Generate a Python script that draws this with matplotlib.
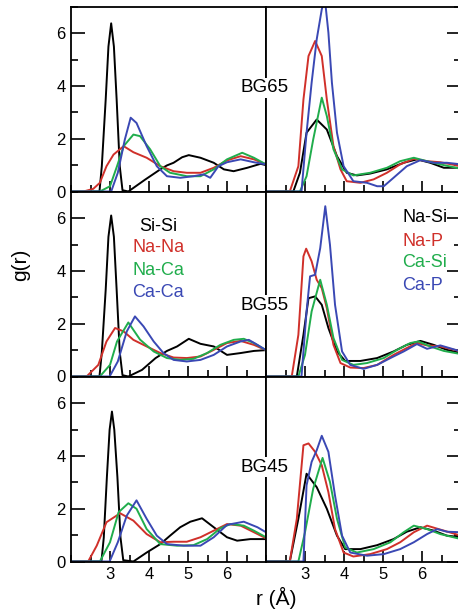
import matplotlib
matplotlib.use("Agg")
import matplotlib.pyplot as plt
from matplotlib.ticker import MultipleLocator

plt.rcParams['font.family'] = ['Liberation Sans', 'DejaVu Sans']

BLACK = 'black'
RED = '#d0302a'
GREEN = '#20ad4c'
BLUE = '#3a48b4'

# ---------------- BG65 ----------------
bg65_sisi_r = [2.0, 2.73, 2.79, 2.89, 2.96, 3.03, 3.10, 3.17, 3.25, 3.32, 3.47, 3.9, 4.29, 4.46, 4.63, 4.85, 5.02, 5.32, 5.66, 5.92, 6.17, 6.52, 6.86, 7.0]
bg65_sisi_g = [0.0, 0.0, 0.96, 3.5, 5.5, 6.38, 5.5, 3.5, 0.96, 0.05, 0.0, 0.45, 0.84, 0.99, 1.09, 1.30, 1.38, 1.28, 1.09, 0.84, 0.77, 0.90, 1.05, 1.0]
bg65_nana_r = [2.0, 2.32, 2.57, 2.74, 2.91, 3.09, 3.35, 3.6, 3.94, 4.29, 4.63, 4.97, 5.32, 5.66, 6.0, 6.35, 6.69, 7.0]
bg65_nana_g = [0.0, 0.0, 0.1, 0.33, 0.96, 1.4, 1.72, 1.49, 1.28, 0.96, 0.77, 0.71, 0.71, 0.90, 1.18, 1.34, 1.22, 1.03]
bg65_naca_r = [2.0, 2.74, 3.0, 3.18, 3.35, 3.6, 3.77, 4.03, 4.29, 4.54, 4.97, 5.32, 5.66, 6.0, 6.39, 6.69, 7.0]
bg65_naca_g = [0.0, 0.0, 0.2, 0.96, 1.72, 2.16, 2.1, 1.6, 0.96, 0.71, 0.58, 0.58, 0.84, 1.22, 1.47, 1.28, 1.03]
bg65_caca_r = [2.0, 3.03, 3.2, 3.38, 3.53, 3.68, 3.94, 4.2, 4.46, 4.8, 5.14, 5.4, 5.57, 5.78, 6.0, 6.35, 6.69, 7.0]
bg65_caca_g = [0.0, 0.0, 0.71, 1.97, 2.8, 2.6, 1.72, 0.96, 0.58, 0.52, 0.58, 0.65, 0.52, 0.96, 1.11, 1.22, 1.11, 1.03]

bg65_nasi_r = [2.0, 2.70, 2.87, 3.04, 3.30, 3.56, 3.82, 4.07, 4.33, 4.67, 5.1, 5.53, 5.87, 6.21, 6.56, 7.0]
bg65_nasi_g = [0.0, 0.0, 0.71, 2.23, 2.73, 2.35, 1.34, 0.71, 0.61, 0.68, 0.84, 1.09, 1.22, 1.09, 0.9, 0.9]
bg65_nap_r = [2.0, 2.61, 2.83, 2.96, 3.09, 3.26, 3.43, 3.56, 3.73, 3.91, 4.07, 4.42, 4.76, 5.1, 5.44, 5.79, 6.13, 6.47, 7.0]
bg65_nap_g = [0.0, 0.0, 0.96, 3.49, 5.14, 5.71, 5.14, 3.49, 1.72, 0.84, 0.39, 0.33, 0.46, 0.71, 1.03, 1.24, 1.15, 1.11, 0.96]
bg65_casi_r = [2.0, 2.87, 3.04, 3.21, 3.43, 3.56, 3.73, 3.95, 4.24, 4.67, 5.1, 5.44, 5.79, 6.13, 6.47, 7.0]
bg65_casi_g = [0.0, 0.0, 0.58, 1.97, 3.56, 2.86, 1.6, 0.84, 0.61, 0.71, 0.90, 1.15, 1.28, 1.15, 1.03, 0.86]
bg65_cap_r = [2.0, 2.91, 3.04, 3.17, 3.30, 3.43, 3.51, 3.6, 3.69, 3.82, 3.99, 4.24, 4.59, 4.85, 5.02, 5.27, 5.61, 5.96, 6.3, 6.64, 7.0]
bg65_cap_g = [0.0, 0.0, 2.23, 4.13, 5.77, 6.91, 7.3, 6.03, 4.13, 2.23, 0.96, 0.39, 0.33, 0.2, 0.2, 0.52, 0.96, 1.19, 1.09, 1.09, 1.03]

# ---------------- BG55 ----------------
bg55_sisi_r = [2.0, 2.73, 2.79, 2.89, 2.96, 3.03, 3.10, 3.17, 3.25, 3.32, 3.47, 3.82, 4.17, 4.46, 4.72, 5.02, 5.32, 5.66, 6.0, 6.35, 6.69, 7.0]
bg55_sisi_g = [0.0, 0.0, 0.92, 3.3, 5.3, 6.11, 5.3, 3.3, 0.92, 0.05, 0.0, 0.25, 0.7, 0.97, 1.14, 1.43, 1.24, 1.14, 0.82, 0.89, 0.97, 1.0]
bg55_nana_r = [2.0, 2.4, 2.7, 2.91, 3.13, 3.35, 3.6, 3.94, 4.29, 4.63, 4.97, 5.32, 5.66, 6.0, 6.35, 6.69, 7.0]
bg55_nana_g = [0.0, 0.0, 0.44, 1.33, 1.84, 1.71, 1.39, 1.14, 0.89, 0.72, 0.70, 0.76, 1.01, 1.27, 1.35, 1.2, 1.0]
bg55_naca_r = [2.0, 2.74, 3.0, 3.18, 3.47, 3.77, 4.12, 4.46, 4.8, 5.14, 5.49, 5.83, 6.17, 6.43, 6.69, 7.0]
bg55_naca_g = [0.0, 0.0, 0.44, 1.33, 2.05, 1.4, 0.95, 0.7, 0.63, 0.67, 0.89, 1.2, 1.39, 1.43, 1.27, 1.0]
bg55_caca_r = [2.0, 2.99, 3.2, 3.43, 3.64, 3.86, 4.12, 4.37, 4.63, 4.97, 5.32, 5.66, 6.0, 6.35, 6.56, 6.78, 7.0]
bg55_caca_g = [0.0, 0.0, 0.57, 1.71, 2.28, 1.9, 1.33, 0.89, 0.63, 0.57, 0.63, 0.82, 1.14, 1.33, 1.39, 1.2, 1.0]

bg55_nasi_r = [2.0, 2.79, 2.96, 3.09, 3.26, 3.43, 3.6, 3.82, 4.03, 4.42, 4.85, 5.27, 5.61, 5.96, 6.3, 6.64, 7.0]
bg55_nasi_g = [0.0, 0.0, 1.58, 2.97, 3.04, 2.72, 1.84, 0.95, 0.59, 0.59, 0.7, 0.95, 1.2, 1.35, 1.2, 1.01, 0.89]
bg55_nap_r = [2.0, 2.66, 2.83, 2.96, 3.03, 3.17, 3.3, 3.43, 3.56, 3.73, 3.91, 4.16, 4.5, 4.85, 5.27, 5.61, 5.87, 6.13, 6.47, 7.0]
bg55_nap_g = [0.0, 0.0, 1.58, 4.56, 4.85, 4.37, 3.67, 3.35, 2.59, 1.2, 0.51, 0.34, 0.32, 0.44, 0.82, 1.08, 1.27, 1.18, 1.14, 0.95]
bg55_casi_r = [2.0, 2.83, 3.0, 3.17, 3.39, 3.56, 3.73, 3.95, 4.24, 4.59, 5.02, 5.36, 5.7, 5.91, 6.21, 6.56, 7.0]
bg55_casi_g = [0.0, 0.0, 0.82, 2.47, 3.67, 2.72, 1.46, 0.63, 0.44, 0.51, 0.7, 1.01, 1.27, 1.33, 1.14, 0.97, 0.85]
bg55_cap_r = [2.0, 2.91, 3.04, 3.13, 3.26, 3.39, 3.52, 3.64, 3.77, 3.95, 4.16, 4.5, 4.85, 5.19, 5.53, 5.87, 6.13, 6.47, 7.0]
bg55_cap_g = [0.0, 0.0, 2.47, 3.8, 3.86, 4.87, 6.46, 5.0, 2.72, 0.95, 0.44, 0.29, 0.44, 0.7, 0.95, 1.23, 1.05, 1.18, 0.95]

# ---------------- BG45 ----------------
bg45_sisi_r = [2.0, 2.78, 2.84, 2.92, 2.99, 3.05, 3.11, 3.19, 3.27, 3.34, 3.6, 3.94, 4.29, 4.54, 4.8, 5.06, 5.36, 5.66, 6.0, 6.26, 6.6, 7.0]
bg45_sisi_g = [0.0, 0.0, 0.9, 3.2, 5.0, 5.69, 5.0, 3.2, 0.9, 0.05, 0.0, 0.34, 0.66, 0.98, 1.3, 1.51, 1.64, 1.3, 0.92, 0.79, 0.85, 0.85]
bg45_nana_r = [2.0, 2.44, 2.66, 2.91, 3.26, 3.6, 3.94, 4.29, 4.63, 4.97, 5.32, 5.66, 6.0, 6.35, 6.69, 7.0]
bg45_nana_g = [0.0, 0.0, 0.6, 1.49, 1.83, 1.55, 1.04, 0.73, 0.75, 0.75, 0.92, 1.17, 1.42, 1.36, 1.11, 0.88]
bg45_naca_r = [2.0, 2.74, 3.0, 3.22, 3.47, 3.68, 3.94, 4.29, 4.72, 5.14, 5.49, 5.83, 6.09, 6.43, 6.69, 7.0]
bg45_naca_g = [0.0, 0.0, 0.73, 1.87, 2.21, 2.0, 1.23, 0.66, 0.6, 0.62, 0.85, 1.26, 1.42, 1.36, 1.17, 0.92]
bg45_caca_r = [2.0, 2.99, 3.2, 3.43, 3.68, 3.94, 4.2, 4.46, 4.89, 5.32, 5.66, 6.0, 6.43, 6.78, 7.0]
bg45_caca_g = [0.0, 0.0, 0.73, 1.74, 2.32, 1.62, 0.98, 0.66, 0.6, 0.6, 0.92, 1.39, 1.51, 1.3, 1.11]

bg45_nasi_r = [2.0, 2.61, 2.83, 3.04, 3.3, 3.56, 3.82, 4.03, 4.42, 4.85, 5.27, 5.61, 5.96, 6.3, 6.64, 7.0]
bg45_nasi_g = [0.0, 0.0, 1.62, 3.33, 2.82, 2.0, 0.98, 0.47, 0.47, 0.62, 0.85, 1.13, 1.3, 1.17, 0.98, 0.92]
bg45_nap_r = [2.0, 2.61, 2.79, 2.96, 3.09, 3.26, 3.43, 3.6, 3.77, 3.99, 4.24, 4.67, 5.1, 5.44, 5.79, 6.13, 6.47, 7.0]
bg45_nap_g = [0.0, 0.0, 1.62, 4.41, 4.48, 4.16, 3.65, 2.63, 1.23, 0.34, 0.19, 0.28, 0.47, 0.73, 1.11, 1.36, 1.21, 0.98]
bg45_casi_r = [2.0, 2.83, 3.0, 3.21, 3.45, 3.64, 3.82, 4.03, 4.33, 4.76, 5.19, 5.53, 5.79, 6.13, 6.47, 7.0]
bg45_casi_g = [0.0, 0.0, 1.11, 2.76, 3.93, 3.02, 1.62, 0.53, 0.34, 0.47, 0.73, 1.11, 1.36, 1.23, 1.04, 0.85]
bg45_cap_r = [2.0, 2.96, 3.04, 3.17, 3.3, 3.43, 3.6, 3.77, 3.95, 4.16, 4.59, 5.02, 5.44, 5.79, 6.13, 6.39, 6.64, 7.0]
bg45_cap_g = [0.0, 0.0, 2.89, 3.78, 4.22, 4.77, 4.16, 2.5, 0.98, 0.34, 0.22, 0.28, 0.47, 0.73, 1.04, 1.23, 1.13, 1.11]

glass_names = ['BG65', 'BG55', 'BG45']
left_labels = ['Si-Si', 'Na-Na', 'Na-Ca', 'Ca-Ca']
right_labels = ['Na-Si', 'Na-P', 'Ca-Si', 'Ca-P']
colors = [BLACK, RED, GREEN, BLUE]

left_data = [
    [(bg65_sisi_r, bg65_sisi_g), (bg65_nana_r, bg65_nana_g), (bg65_naca_r, bg65_naca_g), (bg65_caca_r, bg65_caca_g)],
    [(bg55_sisi_r, bg55_sisi_g), (bg55_nana_r, bg55_nana_g), (bg55_naca_r, bg55_naca_g), (bg55_caca_r, bg55_caca_g)],
    [(bg45_sisi_r, bg45_sisi_g), (bg45_nana_r, bg45_nana_g), (bg45_naca_r, bg45_naca_g), (bg45_caca_r, bg45_caca_g)],
]
right_data = [
    [(bg65_nasi_r, bg65_nasi_g), (bg65_nap_r, bg65_nap_g), (bg65_casi_r, bg65_casi_g), (bg65_cap_r, bg65_cap_g)],
    [(bg55_nasi_r, bg55_nasi_g), (bg55_nap_r, bg55_nap_g), (bg55_casi_r, bg55_casi_g), (bg55_cap_r, bg55_cap_g)],
    [(bg45_nasi_r, bg45_nasi_g), (bg45_nap_r, bg45_nap_g), (bg45_casi_r, bg45_casi_g), (bg45_cap_r, bg45_cap_g)],
]

W, H = 458, 612
fig = plt.figure(figsize=(W / 100, H / 100), dpi=100)

col_x = [71, 266]
col_w = 195
row_top = [7, 192, 377]
row_h = 184.5


def setup_axis(ax, side, bottom_row):
    ax.set_xlim(2, 7)
    ax.set_ylim(0, 7)
    for sp in ax.spines.values():
        sp.set_linewidth(1.3)
    ax.xaxis.set_minor_locator(MultipleLocator(0.5))
    ax.yaxis.set_minor_locator(MultipleLocator(1))
    ax.set_xticks([3, 4, 5, 6])
    ax.set_yticks([0, 2, 4, 6])
    ax.tick_params(which='both', direction='in', top=False, bottom=True,
                   left=(side == 'left'), right=(side == 'right'),
                   labelleft=(side == 'left'), labelright=False,
                   labelbottom=bottom_row, labelsize=12, width=1.2)
    ax.tick_params(which='major', length=10, pad=4)
    ax.tick_params(which='minor', length=5)
    ax.tick_params(axis='x', which='major', length=8)


for i in range(3):
    for j, (side, data) in enumerate([('left', left_data[i]), ('right', right_data[i])]):
        ax = fig.add_axes([col_x[j] / W, 1 - (row_top[i] + row_h) / H, col_w / W, row_h / H])
        for (r, g), c in zip(data, colors):
            ax.plot(r, g, color=c, lw=1.4)
        setup_axis(ax, side, i == 2)
        if i == 1 and side == 'left':
            for k, (lab, c) in enumerate(zip(left_labels, colors)):
                ax.text(4.24, [5.68, 4.89, 4.02, 3.18][k], lab, color=c, fontsize=13,
                        ha='center', va='center')
        if i == 1 and side == 'right':
            for k, (lab, c) in enumerate(zip(right_labels, colors)):
                ax.text(5.5, [6.02, 5.12, 4.32, 3.46][k], lab, color=c, fontsize=13,
                        ha='left', va='center')

label_y = [88, 305, 467]
for name, y in zip(glass_names, label_y):
    fig.text(265 / W, 1 - y / H, name, fontsize=13.5, ha='center', va='center',
             bbox=dict(facecolor='white', edgecolor='none', pad=1.0))

fig.text(21 / W, 1 - 265 / H, 'g(r)', fontsize=15, rotation=90, ha='center', va='center')
fig.text(276 / W, 1 - 598 / H, 'r (Å)', fontsize=15, ha='center', va='center')

fig.savefig('out.png', dpi=100)
